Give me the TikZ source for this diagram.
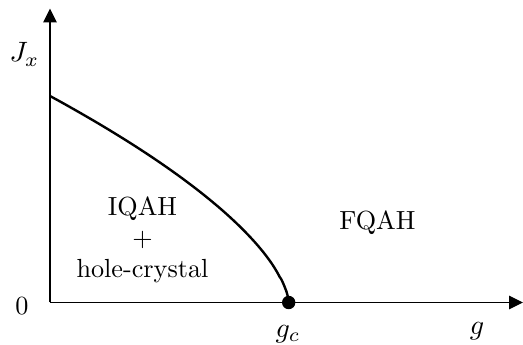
\documentclass[tikz,border=0pt]{standalone}
\usetikzlibrary{arrows.meta}
\begin{document}
\begin{tikzpicture}[x=1pt,y=1pt,
  axis/.style={draw=black, line width=1.2pt, -{Triangle[length=14pt,width=13.5pt]}},
  curve/.style={draw=black, line width=2.4pt},
  lbl/.style={inner sep=0pt, scale=2.62, font=\fontsize{10}{11.8}\selectfont},
  mlbl/.style={inner sep=0pt, scale=2.8, font=\fontsize{10}{11.8}\selectfont},
  dotnode/.style={circle, fill=black, inner sep=0pt, minimum size=13.4pt}]
\useasboundingbox (0,0) rectangle (523,345);
\coordinate (O) at (50,42.5);
\coordinate (ytip) at (50,336.5);
\coordinate (xtip) at (523,42.5);
\coordinate (gc) at (288.7,42.5);
\draw[axis] (O) -- (ytip);
\draw[axis] (O) -- (xtip);
\draw[curve] (gc) -- plot[domain=0.002:1, samples=90, variable=\u] ({50+238.7*(1-(\u)^1.587)}, {42.5+206.5*\u});
\node[dotnode] (dot) at (gc) {};
\node[mlbl, anchor=base] (jx) at (24.5,283) {$J_x$};
\node[lbl, anchor=base] (zero) at (22,30) {0};
\node[mlbl, anchor=base] (gclbl) at (288,7.5) {$g_c$};
\node[mlbl, anchor=base] (glbl) at (477,10.5) {$g$};
\node[lbl, anchor=base] (fqah) at (377.5,115.5) {FQAH};
\node[lbl, anchor=base] (iqah) at (142.5,129.5) {\begin{tabular}[t]{@{}c@{}}IQAH\\+\\hole-crystal\end{tabular}};
\end{tikzpicture}
\end{document}
